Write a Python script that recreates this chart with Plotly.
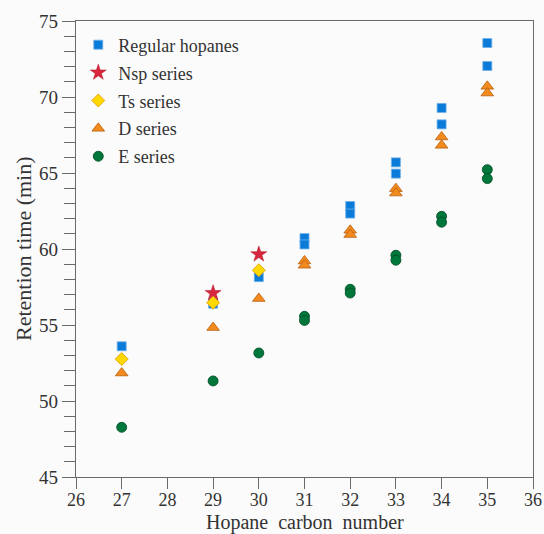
import plotly.graph_objects as go

reg_x = [27, 29, 30, 31, 31, 32, 32, 33, 33, 34, 34, 35, 35]
reg_y = [53.6, 56.4, 58.15, 60.72, 60.3, 62.83, 62.33, 65.7, 64.96, 69.28, 68.2, 73.55, 72.04]

nsp_x = [29, 30]
nsp_y = [57.1, 59.65]

ts_x = [27, 29, 30]
ts_y = [52.76, 56.47, 58.6]

d_x = [27, 29, 30, 31, 31, 32, 32, 33, 33, 34, 34, 35, 35]
d_y = [51.84, 54.83, 56.74, 59.21, 58.93, 61.23, 60.95, 63.97, 63.68, 67.37, 66.82, 70.7, 70.26]

e_x = [27, 29, 30, 31, 31, 32, 32, 33, 33, 34, 34, 35, 35]
e_y = [48.27, 51.32, 53.16, 55.57, 55.3, 57.35, 57.1, 59.59, 59.26, 62.15, 61.76, 65.22, 64.63]

x_title = "Hopane\u00a0 carbon\u00a0 number"
y_title = "Retention time (min)"

FONT = "Liberation Serif"
TXT = "#333333"
fig = go.Figure()

def add(name, x, y, symbol, color, size, lcolor, lw):
    fig.add_trace(go.Scatter(
        x=x, y=y, mode="markers", name=name, legendgroup=name,
        marker=dict(symbol=symbol, color=color, size=size,
                    line=dict(color=lcolor, width=lw))))

add("Regular hopanes", reg_x, reg_y, "square", "#0a7bd8", 9, "#6fb0e8", 0.8)
add("Nsp series", nsp_x, nsp_y, "star", "#d7263d", 12, "#b01020", 0.5)
add("Ts series", ts_x, ts_y, "diamond", "#ffd800", 10, "#e09a00", 0.8)
add("D series", d_x, d_y, "triangle-up", "#f28a1e", 11, "#b9600c", 0.8)
add("E series", e_x, e_y, "circle", "#00773a", 10, "#004a22", 0.8)

axis_common = dict(
    showline=True, linecolor="#6a6a6a", linewidth=1.3, mirror=True,
    showgrid=False, zeroline=False, ticks="outside", tickcolor="#6a6a6a",
    tickwidth=1.3, automargin=False,
)

fig.update_xaxes(range=[26, 36], dtick=1, tick0=26, ticklen=11,
                 ticklabelstandoff=-5,
                 tickfont=dict(family=FONT, size=18, color=TXT),
                 **axis_common)
fig.update_yaxes(range=[45, 75], dtick=5, tick0=45, ticklen=13,
                 tickfont=dict(family=FONT, size=19, color=TXT),
                 minor=dict(dtick=1, ticks="outside", ticklen=11,
                            tickcolor="#6a6a6a", tickwidth=1.3, showgrid=False),
                 **axis_common)

fig.add_annotation(text=x_title, xref="paper", yref="paper",
                   x=0.5, y=-45 / 456, xanchor="center", yanchor="middle",
                   showarrow=False, font=dict(family=FONT, size=20, color=TXT))
fig.add_annotation(text=y_title, xref="paper", yref="paper",
                   x=-53 / 457, y=0.5, xanchor="center", yanchor="middle",
                   textangle=-90, showarrow=False,
                   font=dict(family=FONT, size=22, color=TXT))

fig.update_layout(
    width=544, height=534,
    margin=dict(l=76, r=11, t=21, b=57),
    paper_bgcolor="#fbfbfb", plot_bgcolor="#fbfbfb",
    showlegend=True,
    legend=dict(x=0.005, y=0.988, xanchor="left", yanchor="top",
                bgcolor="rgba(0,0,0,0)", traceorder="grouped",
                tracegroupgap=1.5,
                font=dict(family=FONT, size=18, color=TXT)),
)

fig.write_html("out.html")
